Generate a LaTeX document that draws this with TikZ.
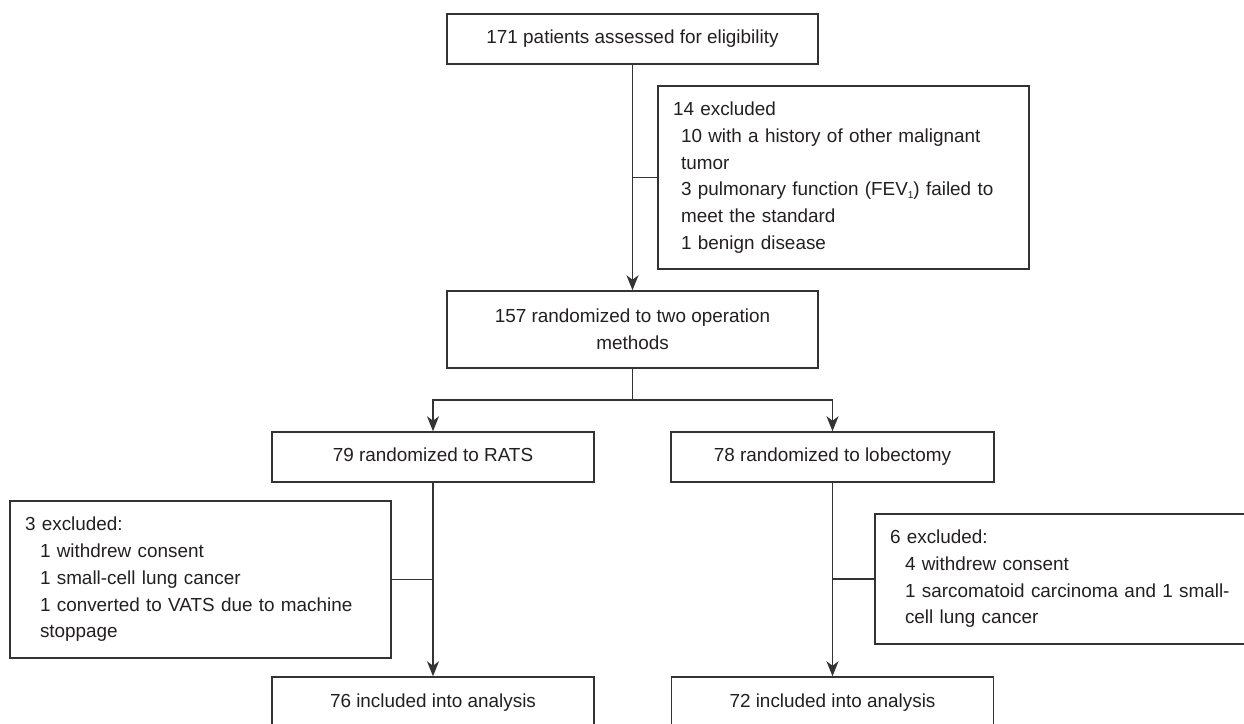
\documentclass[tikz,border=0pt]{standalone}
\usepackage{fontspec}
\setmainfont{Liberation Sans}
\usetikzlibrary{arrows.meta}
\definecolor{ink}{HTML}{231F20}
\definecolor{edge}{HTML}{333333}
\newcommand{\subone}{\raisebox{-2.5pt}{\fontsize{10}{10}\selectfont 1}}
\begin{document}
\begin{tikzpicture}[x=1pt,y=-1pt,
  box/.style={draw=edge, line width=1.5pt, text=ink, font=\fontsize{18.9}{26.7}\selectfont, inner xsep=0pt, inner ysep=0pt, align=center},
  single/.style={text height=13.5pt, text depth=4pt},
  exbox/.style={draw=edge, line width=1.5pt, text=ink, font=\fontsize{18.9}{26.7}\selectfont, inner xsep=15pt, inner ysep=0pt, align=left},
  conn/.style={draw=edge, line width=1.5pt},
  arr/.style={conn, -{Stealth[length=15pt,width=12pt,inset=4.5pt]}}]
\useasboundingbox (0,0) rectangle (1244,723);
\clip (0,0) rectangle (1244,723);
\node[box, single, minimum width=371pt, minimum height=50pt] (top) at (632.5,39) {171 patients assessed for eligibility};
\node[exbox, text width=341pt, minimum height=183pt] (ex1) at (843.5,177.5) {14 excluded\\\hspace*{8pt}10 with a history of other malignant\\\hspace*{8pt}tumor\\\hspace*{8pt}3 pulmonary function (FEV\subone) failed to\\\hspace*{8pt}meet the standard\\\hspace*{8pt}1 benign disease};
\node[box, minimum width=371pt, minimum height=77pt] (rand) at (632.5,329.5) {157 randomized to two operation\\methods};
\coordinate (split) at (632.5,400);
\node[box, single, minimum width=322pt, minimum height=50pt] (rats) at (433,457) {79 randomized to RATS};
\node[box, single, minimum width=323pt, minimum height=50pt] (lob) at (832.5,457) {78 randomized to lobectomy};
\node[exbox, text width=351pt, minimum height=157pt] (exL) at (200.5,579.5) {3 excluded:\\\hspace*{15pt}1 withdrew consent\\\hspace*{15pt}1 small-cell lung cancer\\\hspace*{15pt}1 converted to VATS due to machine\\\hspace*{15pt}stoppage};
\node[exbox, text width=355pt, minimum height=130pt] (exR) at (1067.5,579) {6 excluded:\\\hspace*{15pt}4 withdrew consent\\\hspace*{15pt}1 sarcomatoid carcinoma and 1 small-\\\hspace*{15pt}cell lung cancer};
\node[box, single, minimum width=322pt, minimum height=52pt] (incL) at (433,703) {76 included into analysis};
\node[box, single, minimum width=322pt, minimum height=52pt] (incR) at (832.5,703) {72 included into analysis};
\draw[arr] (top.south) -- (rand.north);
\draw[conn] (top.south |- ex1.west) -- (ex1.west);
\draw[conn] (rand.south) -- (split);
\draw[arr] (split) -| (rats.north);
\draw[arr] (split) -| (lob.north);
\draw[arr] (rats.south) -- (incL.north);
\draw[conn] (rats.south |- exL.east) -- (exL.east);
\draw[arr] (lob.south) -- (incR.north);
\draw[conn] (lob.south |- exR.west) -- (exR.west);
\end{tikzpicture}
\end{document}
